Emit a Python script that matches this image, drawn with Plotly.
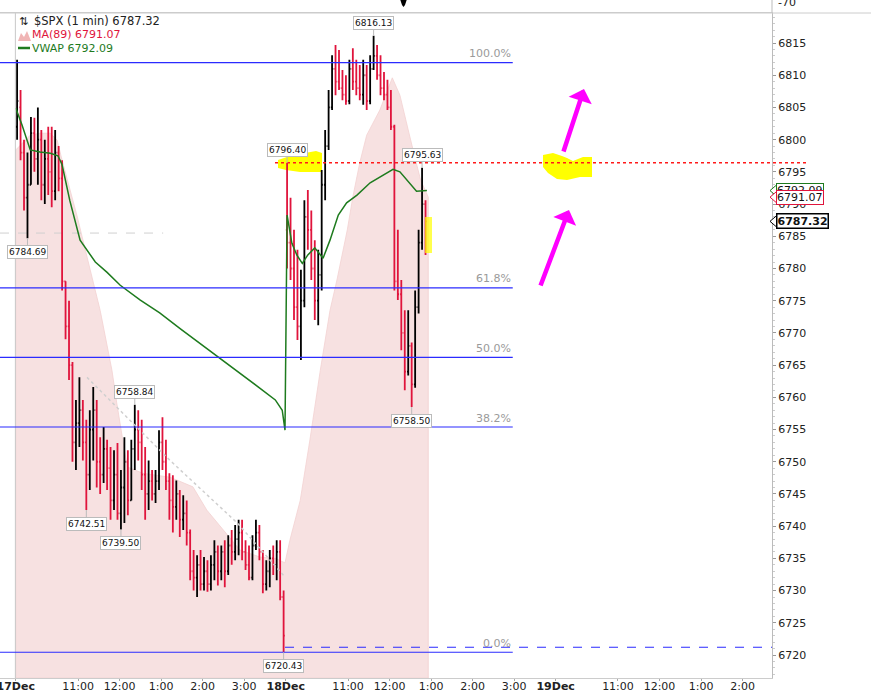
import plotly.graph_objects as go

# ---------------- data ----------------
# 5-minute OHLC bars; 17 Dec session (78 bars) then 18 Dec until ~12:55 (41 bars)
bar_open = [6802, 6805, 6798, 6791, 6793, 6801, 6797, 6800, 6793, 6797,
            6795, 6792, 6798, 6794, 6778, 6771, 6765, 6753, 6756, 6758,
            6753, 6748, 6755, 6758, 6750, 6748, 6752, 6749, 6744, 6748,
            6742, 6746, 6750, 6744, 6752, 6755, 6753, 6748, 6745, 6747,
            6745, 6747, 6753, 6750, 6747, 6744, 6743, 6745, 6741, 6742,
            6739, 6733, 6732, 6734, 6731, 6733, 6731, 6734, 6736, 6733,
            6736, 6733, 6737, 6736, 6738, 6739, 6736, 6734, 6732, 6737,
            6739, 6736, 6731, 6733, 6735, 6734, 6736, 6729,
            6786, 6784, 6780, 6774, 6771, 6775, 6788, 6786, 6780, 6775,
            6779, 6793, 6799, 6805, 6811, 6809, 6808, 6807, 6806, 6811,
            6809, 6808, 6807, 6810, 6806, 6811, 6813, 6810, 6808, 6807,
            6805, 6802, 6778, 6776, 6770, 6764, 6768, 6762, 6774, 6784, 6790]
bar_high = [6812.4, 6807.7, 6800.0, 6798.0, 6803.5, 6803.4, 6805.0, 6801.5, 6800.0, 6802.0,
            6802.0, 6801.5, 6799.0, 6796.8, 6778.0, 6775.0, 6765.5, 6759.6, 6763.1, 6759.6,
            6756.5, 6758.0, 6761.6, 6759.6, 6753.8, 6755.4, 6753.4, 6752.3, 6751.8, 6752.9,
            6748.7, 6753.8, 6751.8, 6753.4, 6758.84, 6758.0, 6756.5, 6752.3, 6750.2, 6748.7,
            6748.7, 6754.9, 6756.9, 6753.4, 6748.2, 6747.9, 6747.1, 6745.6, 6744.8, 6744.0,
            6739.5, 6736.3, 6735.5, 6736.3, 6735.2, 6734.7, 6735.5, 6737.8, 6737.0, 6737.0,
            6737.8, 6738.6, 6739.4, 6740.2, 6741.0, 6741.0, 6737.8, 6737.0, 6738.6, 6741.0,
            6740.2, 6736.3, 6734.7, 6736.3, 6737.0, 6737.8, 6737.8, 6730.0,
            6796.4, 6791.0, 6786.0, 6782.9, 6779.8, 6790.6, 6792.2, 6789.0, 6784.4, 6782.9,
            6795.3, 6801.5, 6807.7, 6813.1, 6814.7, 6813.9, 6810.8, 6810.0, 6812.4, 6814.2,
            6812.4, 6811.6, 6812.4, 6811.6, 6813.1, 6816.13, 6814.7, 6813.1, 6810.5, 6809.3,
            6807.7, 6802.3, 6786.0, 6778.2, 6773.5, 6773.5, 6768.5, 6776.6, 6786.0, 6795.63, 6790.6]
bar_low = [6800.0, 6796.8, 6789.0, 6784.69, 6793.0, 6795.0, 6793.0, 6790.6, 6790.0, 6791.4,
           6789.5, 6790.6, 6792.0, 6776.6, 6769.0, 6762.7, 6750.0, 6748.7, 6752.3, 6750.2,
           6742.51, 6745.6, 6750.2, 6746.0, 6745.0, 6746.7, 6745.6, 6741.0, 6742.5, 6741.0,
           6739.5, 6740.5, 6741.7, 6744.0, 6748.7, 6750.2, 6745.6, 6741.0, 6742.5, 6744.0,
           6743.6, 6745.6, 6748.7, 6745.6, 6741.0, 6739.0, 6741.0, 6738.3, 6739.4, 6737.0,
           6731.6, 6730.0, 6729.0, 6730.0, 6730.0, 6729.8, 6730.0, 6731.6, 6730.8, 6731.6,
           6730.5, 6732.4, 6734.0, 6734.7, 6735.5, 6734.7, 6733.2, 6731.6, 6731.6, 6736.3,
           6734.7, 6729.6, 6730.0, 6730.5, 6732.4, 6731.6, 6728.5, 6720.43,
           6780.0, 6778.2, 6772.0, 6768.9, 6765.8, 6774.0, 6782.9, 6778.2, 6772.0, 6771.2,
           6776.6, 6790.6, 6798.4, 6804.6, 6806.9, 6807.7, 6806.1, 6805.4, 6805.5, 6807.7,
           6806.9, 6806.1, 6805.4, 6804.6, 6805.5, 6810.8, 6809.3, 6806.9, 6806.1, 6804.6,
           6801.5, 6776.6, 6775.1, 6767.3, 6761.1, 6763.4, 6758.5, 6761.5, 6773.0, 6782.9, 6782.1]
bar_close = [6806, 6798, 6791, 6793, 6801, 6797, 6800, 6793, 6797, 6795,
             6792, 6798, 6794, 6778, 6771, 6765, 6753, 6756, 6758, 6753,
             6748, 6755, 6758, 6750, 6748, 6752, 6749, 6744, 6748, 6742,
             6746, 6750, 6744, 6752, 6755, 6753, 6748, 6745, 6747, 6745,
             6747, 6753, 6750, 6747, 6744, 6743, 6745, 6741, 6742, 6739,
             6733, 6732, 6734, 6731, 6733, 6731, 6734, 6736, 6733, 6736,
             6733, 6737, 6736, 6738, 6739, 6736, 6734, 6732, 6737, 6739,
             6736, 6731, 6733, 6735, 6734, 6736, 6729, 6723,
             6784, 6780, 6774, 6771, 6775, 6788, 6786, 6780, 6775, 6779,
             6793, 6799, 6805, 6811, 6809, 6808, 6807, 6806, 6811, 6809,
             6808, 6807, 6810, 6806, 6811, 6813, 6810, 6808, 6807, 6805,
             6802, 6778, 6776, 6770, 6764, 6768, 6762, 6774, 6784, 6790, 6787.32]
# session-compressed minute axis (390 minutes per session)
bar_time = [5 * i + 2 for i in range(78)] + [390 + 5 * j + 2 for j in range(41)]

vwap_time = [0, 9, 21, 35, 50, 61, 67, 78, 93, 115, 132, 151, 180, 208, 237, 266, 295,
             324, 353, 375, 385, 389,
             392, 399, 406, 414, 422, 432, 440, 444, 454, 466, 478, 493, 512, 531, 545,
             555, 569, 579, 594]
vwap_value = [6804.9, 6802.3, 6798.4, 6798.1, 6797.9, 6797.5, 6796.1, 6790.6, 6784.4, 6781.0,
              6779.4, 6777.4, 6775.1, 6773.1, 6770.7, 6768.4, 6766.1, 6763.8, 6761.4, 6759.6,
              6758.0, 6754.9,
              6788.3, 6783.9, 6782.1, 6780.8, 6782.1, 6783.2, 6782.2, 6781.6, 6784.4, 6788.3,
              6790.2, 6791.4, 6793.3, 6794.5, 6795.4, 6795.0, 6793.3, 6792.0, 6792.09]

ma_time = [0, 21, 35, 50, 60, 67, 89, 103, 122, 139, 146, 154, 161, 184, 223, 256, 276,
           300, 324, 353, 375, 389, 396, 411, 425, 440, 454, 464, 479, 487, 497, 507, 526,
           544, 555, 567, 577, 585, 596]
ma_value = [6798.4, 6800.7, 6801.0, 6801.0, 6799.9, 6796.8, 6788.0, 6781.8, 6773.5, 6764.2,
            6759.1, 6753.8, 6749.2, 6748.2, 6747.6, 6746.1, 6742.5, 6739.4, 6736.3, 6735.2,
            6735.0, 6734.3, 6737.8, 6744.0, 6753.4, 6764.2, 6773.5, 6778.2, 6786.0, 6791.1,
            6796.4, 6800.7, 6804.6, 6809.6, 6806.9, 6801.5, 6797.1, 6793.7, 6791.07]

slow_time = [103, 223, 320, 389]
slow_value = [6763.1, 6750.2, 6740.5, 6732.1]
prior_level = 6785.5

fib_text = ["100.0%", "61.8%", "50.0%", "38.2%", "0.0%"]
fib_ratio = [1.0, 0.618, 0.5, 0.382, 0.0]
fib_low = 6720.43
fib_high = 6811.95
low_ray = 6721.2
high_line = 6796.40

label_time = [17, 102, 152, 172, 387, 392, 517, 572, 587]
label_value = [6784.69, 6742.51, 6739.50, 6758.84, 6720.43, 6796.40, 6816.13, 6758.50, 6795.63]
label_above = [False, False, False, True, False, True, True, False, True]

tick_time = [0, 90, 150, 210, 270, 330, 390, 480, 540, 600, 660, 720, 780, 870, 930, 990, 1050]
tick_text = ["<b>17Dec</b>", "11:00", "12:00", "1:00", "2:00", "3:00",
             "<b>18Dec</b>", "11:00", "12:00", "1:00", "2:00", "3:00",
             "<b>19Dec</b>", "11:00", "12:00", "1:00", "2:00"]

last_price = 6787.32
ma_last = 6791.07
vwap_last = 6792.09

# ---------------- geometry helpers ----------------
W, H = 871, 696
PL, PR, PT, PB = 0, 772, 13, 678
X_RANGE = [-22.7, 1092.5]
Y_RANGE = [6716.43, 6819.66]


def PX(x):
    return (x - PL) / (PR - PL)


def PY(y):
    return (PB - y) / (PB - PT)


FONT = "DejaVu Sans"
RED = "#e0143c"
GREEN = "#1e7b1e"
BLUE = "#2b2bff"

fig = go.Figure()

fig.add_trace(go.Ohlc(x=bar_time, open=bar_open, high=bar_high, low=bar_low, close=bar_close,
                      increasing=dict(line=dict(color="#000000", width=1.8)),
                      decreasing=dict(line=dict(color=RED, width=1.8)),
                      tickwidth=0.35, showlegend=False))
fig.add_trace(go.Scatter(x=slow_time, y=slow_value, mode="lines",
                         line=dict(color="#cfcfcf", width=1.5, dash="dot"),
                         hoverinfo="skip", showlegend=False))
fig.add_trace(go.Scatter(x=vwap_time, y=vwap_value, mode="lines",
                         line=dict(color=GREEN, width=1.5), hoverinfo="skip", showlegend=False))

shapes = []
# MA(89) mountain, drawn under the bars on the data axes
ma_path = (f"M {ma_time[0]},{Y_RANGE[0]} "
           + " ".join(f"L {t},{v}" for t, v in zip(ma_time, ma_value))
           + f" L {ma_time[-1]},{Y_RANGE[0]} Z")
shapes.append(dict(type="path", xref="x", yref="y", path=ma_path, fillcolor="#f7e1e1",
                   line=dict(color="#f2d2d2", width=0.8), layer="below"))
# day separator
shapes.append(dict(type="line", xref="x", yref="paper", x0=-0.5, x1=-0.5, y0=0, y1=1,
                   line=dict(color="#c8c8c8", width=1), layer="above"))
# prior-day dotted level
shapes.append(dict(type="line", xref="x", yref="y", x0=X_RANGE[0], x1=213,
                   y0=prior_level, y1=prior_level,
                   line=dict(color="#d0d0d0", width=1, dash="dash"), layer="below"))
# fib lines
fib_levels = [fib_low + r * (fib_high - fib_low) for r in fib_ratio]
for lv in fib_levels:
    shapes.append(dict(type="line", xref="x", yref="y", x0=X_RANGE[0], x1=718, y0=lv, y1=lv,
                       line=dict(color=BLUE, width=1.2), layer="above"))
# dashed ray at the low
shapes.append(dict(type="line", xref="x", yref="y", x0=389, x1=X_RANGE[1], y0=low_ray, y1=low_ray,
                   line=dict(color=BLUE, width=1.2, dash="dash"), layer="above"))
# red dotted level at 6796.40
shapes.append(dict(type="line", xref="paper", yref="y", x0=PX(275), x1=PX(806),
                   y0=high_line, y1=high_line,
                   line=dict(color="#ff1a1a", width=1.5, dash="dot"), layer="above"))


def blob(points, layer="below", opacity=1.0):
    p = "M " + " L ".join(f"{PX(x):.5f},{PY(y):.5f}" for x, y in points) + " Z"
    return dict(type="path", xref="paper", yref="paper", path=p, fillcolor="#ffff00",
                line=dict(width=0), layer=layer, opacity=opacity)


shapes.append(blob([(278, 160), (290, 156), (305, 153), (316, 151), (322, 153), (322, 172),
                    (300, 172), (286, 170), (278, 168)]))
shapes.append(blob([(543, 155), (553, 153), (562, 156), (567, 158), (573, 161), (583, 157),
                    (592, 157), (592, 177), (580, 177), (567, 180), (557, 179), (548, 173),
                    (543, 167)]))
shapes.append(blob([(425, 217), (432, 217), (432, 253), (425, 253)], layer="above", opacity=0.7))

# top marker and panel edge
shapes.append(dict(type="path", xref="paper", yref="paper",
                   path=f"M {PX(400)},{PY(-1)} L {PX(407)},{PY(-1)} L {PX(405)},{PY(5)} "
                        f"L {PX(403.5)},{PY(7)} L {PX(402)},{PY(5)} Z",
                   fillcolor="#000", line=dict(width=0)))
shapes.append(dict(type="line", xref="paper", yref="paper", x0=1, x1=1, y0=PY(0), y1=1,
                   line=dict(color="#bbbbbb", width=1)))
shapes.append(dict(type="line", xref="paper", yref="paper", x0=0, x1=PX(871), y0=1, y1=1,
                   line=dict(color="#cccccc", width=1)))

# legend icons
shapes.append(dict(type="path", xref="paper", yref="paper",
                   path=f"M {PX(18)},{PY(41)} L {PX(21)},{PY(33)} L {PX(24)},{PY(37)} "
                        f"L {PX(27)},{PY(31)} L {PX(31)},{PY(41)} Z",
                   fillcolor="#f0b5b5", line=dict(width=0)))
shapes.append(dict(type="line", xref="paper", yref="paper", x0=PX(18), x1=PX(30),
                   y0=PY(48), y1=PY(48), line=dict(color=GREEN, width=2.5)))

# right-axis tag tips
for val, col in [(vwap_last, GREEN), (ma_last, RED), (last_price, "#000000")]:
    dv = 6 / 6.44
    shapes.append(dict(type="path", xref="paper", yref="y",
                       path=f"M {PX(770)},{val} L {PX(777)},{val + dv} L {PX(777)},{val - dv} Z",
                       fillcolor="white", line=dict(color=col, width=1)))

ann = []
# legend text
ann.append(dict(xref="paper", yref="paper", x=PX(17), y=PY(21), xanchor="left", yanchor="middle",
                text="⇅", showarrow=False, font=dict(family=FONT, size=11, color="#222")))
ann.append(dict(xref="paper", yref="paper", x=PX(32), y=PY(21), xanchor="left", yanchor="middle",
                text=f"$SPX (1 min) {last_price:.2f}", showarrow=False,
                font=dict(family=FONT, size=11.5, color="#222")))
ann.append(dict(xref="paper", yref="paper", x=PX(30), y=PY(35), xanchor="left", yanchor="middle",
                text=f"MA(89) {ma_last:.2f}", showarrow=False,
                font=dict(family=FONT, size=11, color=RED)))
ann.append(dict(xref="paper", yref="paper", x=PX(30), y=PY(48), xanchor="left", yanchor="middle",
                text=f"VWAP {vwap_last:.2f}", showarrow=False,
                font=dict(family=FONT, size=11, color=GREEN)))

# fib labels
for txt, lv in zip(fib_text, fib_levels):
    ann.append(dict(xref="x", yref="y", x=718, y=lv, xanchor="right", yanchor="middle",
                    yshift=9, text=txt, showarrow=False,
                    font=dict(family=FONT, size=11, color="#9a9a9a")))

# price callouts
for t, v, above in zip(label_time, label_value, label_above):
    ann.append(dict(xref="x", yref="y", x=t, y=v, text=f"{v:.2f}", showarrow=True,
                    arrowhead=0, arrowwidth=1, arrowcolor="#bbbbbb", ax=0,
                    ay=-13 if above else 14, bgcolor="white", bordercolor="#bbbbbb",
                    borderwidth=1, borderpad=1,
                    font=dict(family=FONT, size=9, color="#111")))

# right axis tags (stacked: green, red, black)
for val, col, bold in [(vwap_last, GREEN, False), (ma_last, RED, False), (last_price, "#000000", True)]:
    ann.append(dict(xref="paper", yref="y", x=PX(776), y=val, xanchor="left", yanchor="middle",
                    text=(f"<b>{val:.2f}</b>" if bold else f"{val:.2f}"), showarrow=False,
                    bgcolor="white", bordercolor=col, borderwidth=1.5 if bold else 1, borderpad=0,
                    font=dict(family=FONT, size=11, color="#111")))

# magenta hand-drawn arrows
for hx, hy, tx, ty in [(569, 210, 540, 287), (584, 89, 563, 153)]:
    ann.append(dict(xref="paper", yref="paper", x=PX(hx), y=PY(hy), ax=tx - hx, ay=ty - hy,
                    text="", showarrow=True, arrowhead=1, arrowsize=0.9, arrowwidth=4.5,
                    arrowcolor="#ff00ff"))

# clipped label of the panel above
ann.append(dict(xref="paper", yref="paper", x=PX(776), y=PY(2), xanchor="left", yanchor="middle",
                text="-70", showarrow=False, font=dict(family=FONT, size=11, color="#222")))

fig.update_layout(
    width=W, height=H,
    margin=dict(l=PL, r=W - PR, t=PT, b=H - PB),
    paper_bgcolor="white", plot_bgcolor="white",
    showlegend=False,
    shapes=shapes, annotations=ann,
    xaxis=dict(range=X_RANGE, tickmode="array", tickvals=tick_time, ticktext=tick_text,
               tickfont=dict(family=FONT, size=11, color="#222"),
               ticks="outside", ticklen=2, tickcolor="#aaaaaa",
               ticklabelstandoff=-4, ticklabeloverflow="allow",
               showline=True, linecolor="#cccccc", mirror=True,
               showgrid=False, zeroline=False, automargin=False,
               rangeslider=dict(visible=False)),
    yaxis=dict(range=Y_RANGE, side="right", tick0=6720, dtick=5, tickformat="d",
               tickfont=dict(family=FONT, size=11, color="#222"),
               ticks="outside", ticklen=3, tickcolor="#999999",
               minor=dict(ticks="outside", ticklen=2, dtick=1, tickcolor="#cccccc"),
               showline=True, linecolor="#bbbbbb",
               showgrid=False, zeroline=False, automargin=False),
)

fig.write_html("out.html", config={"displayModeBar": False},
               post_script="document.body.style.margin='0';document.body.style.overflow='hidden';")
